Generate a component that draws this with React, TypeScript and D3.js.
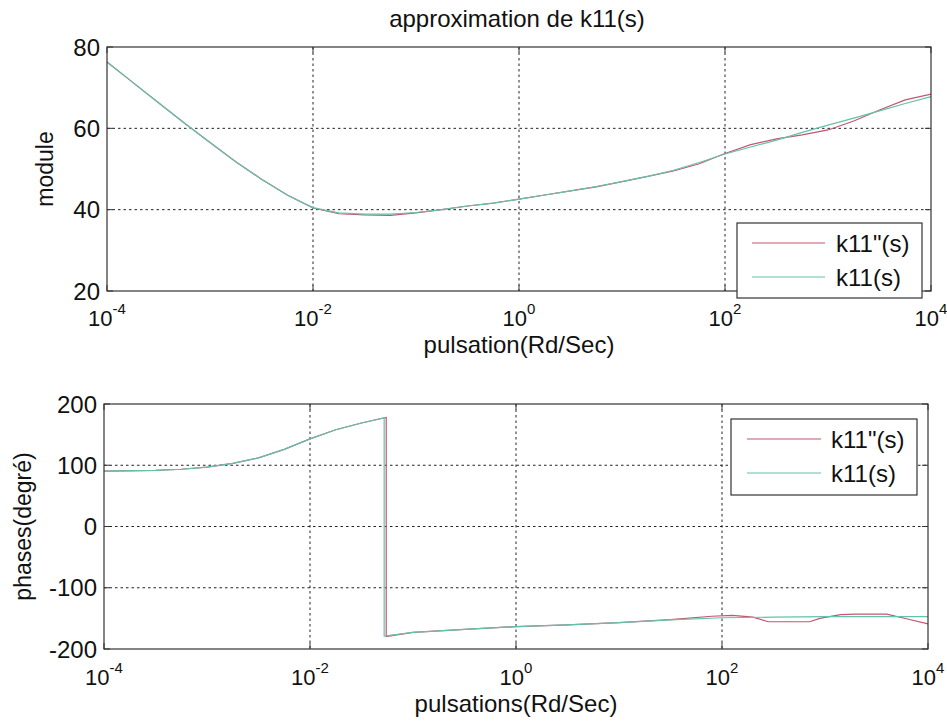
import React from "react";
import * as d3 from "d3";

// ---- data ----
const titleText = "approximation de k11(s)";
const xTickExps = [-4, -2, 0, 2, 4];
const moduleTicks = [20, 40, 60, 80];
const phaseTicks = [-200, -100, 0, 100, 200];
const seriesNames = ["k11\"(s)", "k11(s)"];

const moduleLogW = [-4, -3.75, -3.5, -3.25, -3, -2.75, -2.5, -2.25, -2, -1.75, -1.5, -1.25, -1, -0.75, -0.5, -0.25, 0, 0.25, 0.5, 0.75, 1, 1.25, 1.5, 1.75, 2, 2.25, 2.5, 2.75, 3, 3.25, 3.5, 3.75, 4];
const moduleK11 = [76.3, 71.3, 66.3, 61.3, 56.5, 51.8, 47.5, 43.6, 40.5, 39.2, 38.9, 38.9, 39.3, 40, 40.9, 41.6, 42.6, 43.6, 44.6, 45.7, 46.9, 48.2, 49.7, 51.6, 53.7, 55.4, 57.1, 59.0, 60.8, 62.5, 64.3, 66.1, 67.8];
const moduleK11pp = [76.3, 71.3, 66.3, 61.3, 56.5, 51.8, 47.5, 43.6, 40.4, 39.0, 38.7, 38.6, 39.2, 40, 40.9, 41.6, 42.6, 43.6, 44.6, 45.6, 46.9, 48.2, 49.5, 51.3, 53.8, 56.0, 57.4, 58.4, 59.6, 61.8, 64.5, 67.0, 68.4];

const phaseK11LogW = [-4, -3.5, -3.25, -3, -2.75, -2.5, -2.25, -2, -1.75, -1.5, -1.28, -1.28, -1, -0.5, 0, 0.5, 1, 1.5, 2, 2.5, 3, 3.5, 4];
const phaseK11 = [90.5, 91.5, 93.5, 97, 103, 112, 126, 143, 158, 169, 177.5, -179, -173, -168, -163.5, -160.5, -157, -152.5, -149, -148, -147, -147, -147];
const phaseK11ppLogW = [-4, -3.5, -3.25, -3, -2.75, -2.5, -2.25, -2, -1.75, -1.5, -1.26, -1.26, -1, -0.5, 0, 0.5, 1, 1.5, 1.9, 2.1, 2.3, 2.45, 2.85, 2.95, 3.15, 3.3, 3.6, 3.8, 4];
const phaseK11pp = [90.5, 91.5, 93.5, 97, 103, 112, 126, 143, 158, 169, 178, -179.5, -173, -168, -163.5, -160.5, -157, -152, -146.5, -145, -148, -155.5, -155.5, -150, -144, -143, -143, -151, -159];

const RED = "#c4566f";
const GREEN = "#62c2ad";
const FONT = "'Liberation Sans', Arial, Helvetica, sans-serif";

type Panel = {
  left: number; right: number; top: number; bottom: number;
  yDomain: [number, number]; yTicks: number[];
  ylabel: string; ylabelX: number;
  xlabel: string; xTickBase: number; xlabelBase: number;
  series: { logW: number[]; vals: number[]; color: string }[];
  legend: { x0: number; x1: number; y0: number; y1: number; lineX0: number; lineX1: number; textX: number; rows: number[] };
};

function PanelView({ p }: { p: Panel }) {
  const x = d3.scaleLog().domain([1e-4, 1e4]).range([p.left, p.right]);
  const y = d3.scaleLinear().domain(p.yDomain).range([p.bottom, p.top]);
  const line = d3.line<[number, number]>().x((d) => x(Math.pow(10, d[0]))).y((d) => y(d[1]));
  const gridX = xTickExps.slice(1, -1);
  const gridY = p.yTicks.slice(1, -1);
  const tl = 6;
  return (
    <g fontFamily={FONT} fill="#111">
      {gridX.map((e) => (
        <line key={"gx" + e} x1={x(Math.pow(10, e))} x2={x(Math.pow(10, e))} y1={p.top} y2={p.bottom}
          stroke="#222" strokeWidth={1} strokeDasharray="2.5,3" />
      ))}
      {gridY.map((v) => (
        <line key={"gy" + v} x1={p.left} x2={p.right} y1={y(v)} y2={y(v)}
          stroke="#222" strokeWidth={1} strokeDasharray="2.5,3" />
      ))}
      {p.series.map((s, i) => (
        <path key={"s" + i} d={line(s.logW.map((l, j) => [l, s.vals[j]] as [number, number])) || ""}
          fill="none" stroke={s.color} strokeWidth={1.2} />
      ))}
      <rect x={p.left} y={p.top} width={p.right - p.left} height={p.bottom - p.top} fill="none" stroke="#333" strokeWidth={1.2} />
      {xTickExps.map((e) => {
        const xx = x(Math.pow(10, e));
        return (
          <g key={"xt" + e}>
            <line x1={xx} x2={xx} y1={p.bottom} y2={p.bottom - tl} stroke="#333" />
            <line x1={xx} x2={xx} y1={p.top} y2={p.top + tl} stroke="#333" />
            <text x={xx} y={p.xTickBase} textAnchor="middle" fontSize={22} stroke="none">
              <tspan>10</tspan>
              <tspan dy={-12} fontSize={15}>{String(e)}</tspan>
            </text>
          </g>
        );
      })}
      {p.yTicks.map((v) => (
        <g key={"yt" + v}>
          <line x1={p.left} x2={p.left + tl} y1={y(v)} y2={y(v)} stroke="#333" />
          <line x1={p.right} x2={p.right - tl} y1={y(v)} y2={y(v)} stroke="#333" />
          <text x={p.left - 7} y={y(v) + 8.6} textAnchor="end" fontSize={24}>{String(v)}</text>
        </g>
      ))}
      <text transform={`translate(${p.ylabelX},${(p.top + p.bottom) / 2}) rotate(-90)`} textAnchor="middle" fontSize={23}>{p.ylabel}</text>
      <text x={(p.left + p.right) / 2} y={p.xlabelBase} textAnchor="middle" fontSize={24}>{p.xlabel}</text>
      <rect x={p.legend.x0} y={p.legend.y0} width={p.legend.x1 - p.legend.x0} height={p.legend.y1 - p.legend.y0}
        fill="#fff" stroke="#333" strokeWidth={1.2} />
      {seriesNames.map((n, i) => (
        <g key={"lg" + i}>
          <line x1={p.legend.lineX0} x2={p.legend.lineX1} y1={p.legend.rows[i]} y2={p.legend.rows[i]}
            stroke={i === 0 ? RED : GREEN} strokeWidth={1.2} />
          <text x={p.legend.textX} y={p.legend.rows[i] + 8.6} fontSize={24}>{n}</text>
        </g>
      ))}
    </g>
  );
}

export default function App() {
  const top: Panel = {
    left: 107, right: 931, top: 47, bottom: 291,
    yDomain: [20, 80], yTicks: moduleTicks,
    ylabel: "module", ylabelX: 53,
    xlabel: "pulsation(Rd/Sec)", xTickBase: 326, xlabelBase: 353,
    series: [
      { logW: moduleLogW, vals: moduleK11pp, color: RED },
      { logW: moduleLogW, vals: moduleK11, color: GREEN },
    ],
    legend: { x0: 737, x1: 922, y0: 223, y1: 298, lineX0: 752, lineX1: 825, textX: 836, rows: [243, 277] },
  };
  const bottom: Panel = {
    left: 104, right: 928, top: 404, bottom: 649,
    yDomain: [-200, 200], yTicks: phaseTicks,
    ylabel: "phases(degré)", ylabelX: 31,
    xlabel: "pulsations(Rd/Sec)", xTickBase: 685, xlabelBase: 712,
    series: [
      { logW: phaseK11ppLogW, vals: phaseK11pp, color: RED },
      { logW: phaseK11LogW, vals: phaseK11, color: GREEN },
    ],
    legend: { x0: 731, x1: 917, y0: 419, y1: 495, lineX0: 747, lineX1: 821, textX: 831, rows: [439, 473] },
  };
  return (
    <svg width={947} height={724} style={{ position: "absolute", left: 0, top: 0, display: "block", background: "#fff" }}>
      <rect x={0} y={0} width={947} height={724} fill="#fff" />
      <text x={517} y={27} textAnchor="middle" fontSize={24} fontFamily={FONT} fill="#111">{titleText}</text>
      <PanelView p={top} />
      <PanelView p={bottom} />
    </svg>
  );
}
